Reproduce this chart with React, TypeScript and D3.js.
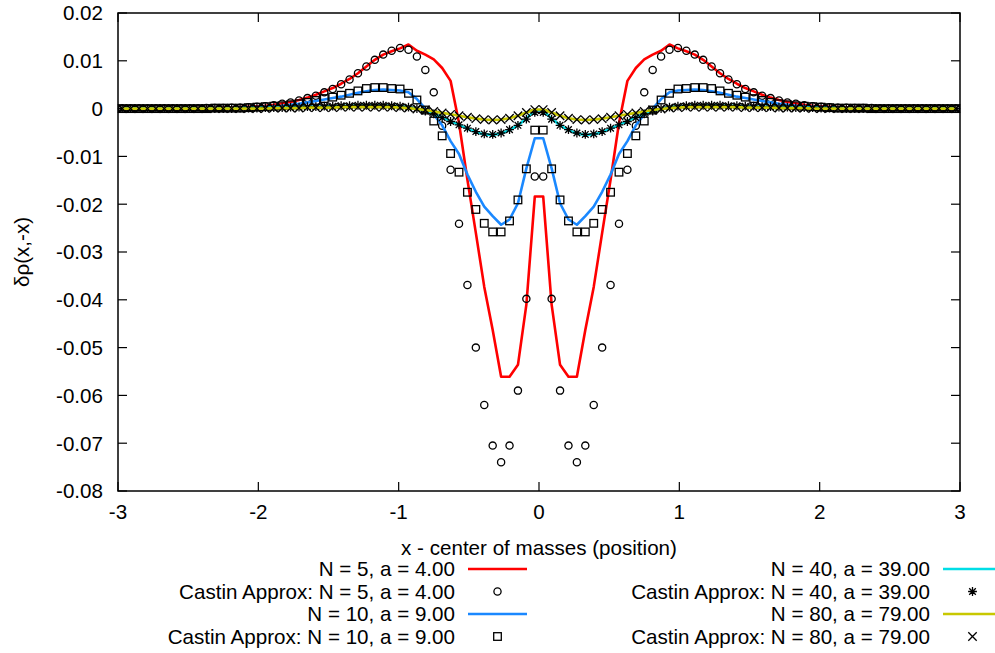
import React from "react";
import * as d3 from "d3";

// x positions (center of masses)
const xValues = [
  -2.97, -2.91, -2.85, -2.79, -2.73, -2.67, -2.61, -2.55, -2.49, -2.43,
  -2.37, -2.31, -2.25, -2.19, -2.13, -2.07, -2.01, -1.95, -1.89, -1.83,
  -1.77, -1.71, -1.65, -1.59, -1.53, -1.47, -1.41, -1.35, -1.29, -1.23,
  -1.17, -1.11, -1.05, -0.99, -0.93, -0.87, -0.81, -0.75, -0.69, -0.63,
  -0.57, -0.51, -0.45, -0.39, -0.33, -0.27, -0.21, -0.15, -0.09, -0.03,
  0.03, 0.09, 0.15, 0.21, 0.27, 0.33, 0.39, 0.45, 0.51, 0.57,
  0.63, 0.69, 0.75, 0.81, 0.87, 0.93, 0.99, 1.05, 1.11, 1.17,
  1.23, 1.29, 1.35, 1.41, 1.47, 1.53, 1.59, 1.65, 1.71, 1.77,
  1.83, 1.89, 1.95, 2.01, 2.07, 2.13, 2.19, 2.25, 2.31, 2.37,
  2.43, 2.49, 2.55, 2.61, 2.67, 2.73, 2.79, 2.85, 2.91, 2.97,
];

// N = 5, a = 4.00
const n5Line = [
  0, 0, 0, 0, 0, 0, 0, 0, 0, 0.0001,
  0.0001, 0.0001, 0.0002, 0.0002, 0.0003, 0.0004, 0.0005, 0.0006, 0.0008, 0.0011,
  0.0014, 0.0018, 0.0023, 0.0029, 0.0036, 0.0043, 0.0052, 0.0062, 0.0074, 0.0088,
  0.0102, 0.0113, 0.012, 0.0126, 0.0134, 0.0121, 0.0113, 0.0103, 0.0085, 0.0058,
  -0.003, -0.0149, -0.026, -0.0373, -0.0463, -0.0561, -0.0561, -0.0536, -0.041, -0.0184,
  -0.0184, -0.041, -0.0536, -0.0561, -0.0561, -0.0463, -0.0373, -0.026, -0.0149, -0.003,
  0.0058, 0.0085, 0.0103, 0.0113, 0.0121, 0.0134, 0.0126, 0.012, 0.0113, 0.0102,
  0.0088, 0.0074, 0.0062, 0.0052, 0.0043, 0.0036, 0.0029, 0.0023, 0.0018, 0.0014,
  0.0011, 0.0008, 0.0006, 0.0005, 0.0004, 0.0003, 0.0002, 0.0002, 0.0001, 0.0001,
  0.0001, 0, 0, 0, 0, 0, 0, 0, 0, 0,
];
// Castin Approx: N = 5, a = 4.00
const n5Castin = [
  0, 0, 0, 0, 0, 0, 0, 0, 0, 0,
  0.0001, 0.0001, 0.0001, 0.0002, 0.0002, 0.0003, 0.0004, 0.0005, 0.0007, 0.001,
  0.0013, 0.0017, 0.0022, 0.0027, 0.0034, 0.0041, 0.0051, 0.0061, 0.0074, 0.0088,
  0.0102, 0.0113, 0.0121, 0.0127, 0.0123, 0.0109, 0.0081, 0.0034, -0.0036, -0.0128,
  -0.0241, -0.0369, -0.05, -0.062, -0.0705, -0.074, -0.0705, -0.059, -0.0398, -0.0142,
  -0.0142, -0.0398, -0.059, -0.0705, -0.074, -0.0705, -0.062, -0.05, -0.0369, -0.0241,
  -0.0128, -0.0036, 0.0034, 0.0081, 0.0109, 0.0123, 0.0127, 0.0121, 0.0113, 0.0102,
  0.0088, 0.0074, 0.0061, 0.0051, 0.0041, 0.0034, 0.0027, 0.0022, 0.0017, 0.0013,
  0.001, 0.0007, 0.0005, 0.0004, 0.0003, 0.0002, 0.0002, 0.0001, 0.0001, 0.0001,
  0, 0, 0, 0, 0, 0, 0, 0, 0, 0,
];
// N = 10, a = 9.00
const n10Line = [
  0, 0, 0, 0, 0, 0, 0, 0, 0, 0,
  0, 0.0001, 0.0001, 0.0001, 0.0002, 0.0002, 0.0003, 0.0004, 0.0005, 0.0006,
  0.0008, 0.001, 0.0013, 0.0016, 0.0019, 0.0022, 0.0025, 0.0029, 0.0033, 0.0036,
  0.0039, 0.004, 0.0039, 0.0038, 0.0034, 0.002, 0, -0.0012, -0.0035, -0.0068,
  -0.0095, -0.0138, -0.0174, -0.0205, -0.0225, -0.0243, -0.0232, -0.0198, -0.0125, -0.0062,
  -0.0062, -0.0125, -0.0198, -0.0232, -0.0243, -0.0225, -0.0205, -0.0174, -0.0138, -0.0095,
  -0.0068, -0.0035, -0.0012, 0, 0.002, 0.0034, 0.0038, 0.0039, 0.004, 0.0039,
  0.0036, 0.0033, 0.0029, 0.0025, 0.0022, 0.0019, 0.0016, 0.0013, 0.001, 0.0008,
  0.0006, 0.0005, 0.0004, 0.0003, 0.0002, 0.0002, 0.0001, 0.0001, 0.0001, 0,
  0, 0, 0, 0, 0, 0, 0, 0, 0, 0,
];
// Castin Approx: N = 10, a = 9.00
const n10Castin = [
  0, 0, 0, 0, 0, 0, 0, 0, 0, 0,
  0, 0.0001, 0.0001, 0.0001, 0.0001, 0.0002, 0.0003, 0.0004, 0.0005, 0.0006,
  0.0008, 0.001, 0.0013, 0.0017, 0.0021, 0.0024, 0.0028, 0.0032, 0.0037, 0.0042,
  0.0044, 0.0044, 0.0042, 0.0041, 0.0032, 0.0018, -0.0003, -0.0026, -0.0057, -0.0094,
  -0.0133, -0.0175, -0.0211, -0.024, -0.0258, -0.0258, -0.0235, -0.0191, -0.0126, -0.0045,
  -0.0045, -0.0126, -0.0191, -0.0235, -0.0258, -0.0258, -0.024, -0.0211, -0.0175, -0.0133,
  -0.0094, -0.0057, -0.0026, -0.0003, 0.0018, 0.0032, 0.0041, 0.0042, 0.0044, 0.0044,
  0.0042, 0.0037, 0.0032, 0.0028, 0.0024, 0.0021, 0.0017, 0.0013, 0.001, 0.0008,
  0.0006, 0.0005, 0.0004, 0.0003, 0.0002, 0.0001, 0.0001, 0.0001, 0.0001, 0,
  0, 0, 0, 0, 0, 0, 0, 0, 0, 0,
];
// N = 40, a = 39.00
const n40Line = [
  0, 0, 0, 0, 0, 0, 0, 0, 0, 0,
  0, 0, 0, 0, 0.0001, 0.0001, 0.0001, 0.0002, 0.0002, 0.0002,
  0.0003, 0.0003, 0.0004, 0.0004, 0.0005, 0.0005, 0.0006, 0.0006, 0.0007, 0.0007,
  0.0007, 0.0007, 0.0006, 0.0005, 0.0003, 0, -0.0005, -0.0011, -0.0018, -0.0026,
  -0.0034, -0.0042, -0.0049, -0.0054, -0.0055, -0.0052, -0.0045, -0.0035, -0.0021, -0.0004,
  -0.0004, -0.0021, -0.0035, -0.0045, -0.0052, -0.0055, -0.0054, -0.0049, -0.0042, -0.0034,
  -0.0026, -0.0018, -0.0011, -0.0005, 0, 0.0003, 0.0005, 0.0006, 0.0007, 0.0007,
  0.0007, 0.0007, 0.0006, 0.0006, 0.0005, 0.0005, 0.0004, 0.0004, 0.0003, 0.0003,
  0.0002, 0.0002, 0.0002, 0.0001, 0.0001, 0.0001, 0, 0, 0, 0,
  0, 0, 0, 0, 0, 0, 0, 0, 0, 0,
];
// Castin Approx: N = 40, a = 39.00
const n40Castin = [
  0, 0, 0, 0, 0, 0, 0, 0, 0, 0,
  0, 0, 0, 0, 0.0001, 0.0001, 0.0001, 0.0002, 0.0002, 0.0002,
  0.0003, 0.0003, 0.0004, 0.0004, 0.0005, 0.0005, 0.0006, 0.0006, 0.0007, 0.0007,
  0.0007, 0.0007, 0.0006, 0.0005, 0.0003, 0, -0.0005, -0.0011, -0.0019, -0.0027,
  -0.0034, -0.0041, -0.0048, -0.0053, -0.0054, -0.0051, -0.0044, -0.0035, -0.0022, -0.0008,
  -0.0008, -0.0022, -0.0035, -0.0044, -0.0051, -0.0054, -0.0053, -0.0048, -0.0041, -0.0034,
  -0.0027, -0.0019, -0.0011, -0.0005, 0, 0.0003, 0.0005, 0.0006, 0.0007, 0.0007,
  0.0007, 0.0007, 0.0006, 0.0006, 0.0005, 0.0005, 0.0004, 0.0004, 0.0003, 0.0003,
  0.0002, 0.0002, 0.0002, 0.0001, 0.0001, 0.0001, 0, 0, 0, 0,
  0, 0, 0, 0, 0, 0, 0, 0, 0, 0,
];
// N = 80, a = 79.00
const n80Line = [
  0, 0, 0, 0, 0, 0, 0, 0, 0, 0,
  0, 0, 0, 0, 0, 0, 0, 0, 0.0001, 0.0001,
  0.0001, 0.0001, 0.0002, 0.0002, 0.0002, 0.0002, 0.0003, 0.0003, 0.0003, 0.0003,
  0.0003, 0.0003, 0.0003, 0.0002, 0.0001, -0.0001, -0.0003, -0.0006, -0.0009, -0.0012,
  -0.0015, -0.0018, -0.0021, -0.0023, -0.0024, -0.0023, -0.002, -0.0015, -0.0008, -0.0002,
  -0.0002, -0.0008, -0.0015, -0.002, -0.0023, -0.0024, -0.0023, -0.0021, -0.0018, -0.0015,
  -0.0012, -0.0009, -0.0006, -0.0003, -0.0001, 0.0001, 0.0002, 0.0003, 0.0003, 0.0003,
  0.0003, 0.0003, 0.0003, 0.0003, 0.0002, 0.0002, 0.0002, 0.0002, 0.0001, 0.0001,
  0.0001, 0.0001, 0, 0, 0, 0, 0, 0, 0, 0,
  0, 0, 0, 0, 0, 0, 0, 0, 0, 0,
];
// Castin Approx: N = 80, a = 79.00
const n80Castin = [
  0, 0, 0, 0, 0, 0, 0, 0, 0, 0,
  0, 0, 0, 0, 0, 0, 0, 0, 0.0001, 0.0001,
  0.0001, 0.0001, 0.0002, 0.0002, 0.0002, 0.0002, 0.0003, 0.0003, 0.0003, 0.0003,
  0.0003, 0.0003, 0.0003, 0.0002, 0.0001, -0.0001, -0.0003, -0.0006, -0.0009, -0.0012,
  -0.0015, -0.0018, -0.0021, -0.0023, -0.0024, -0.0023, -0.002, -0.0015, -0.0008, -0.0002,
  -0.0002, -0.0008, -0.0015, -0.002, -0.0023, -0.0024, -0.0023, -0.0021, -0.0018, -0.0015,
  -0.0012, -0.0009, -0.0006, -0.0003, -0.0001, 0.0001, 0.0002, 0.0003, 0.0003, 0.0003,
  0.0003, 0.0003, 0.0003, 0.0003, 0.0002, 0.0002, 0.0002, 0.0002, 0.0001, 0.0001,
  0.0001, 0.0001, 0, 0, 0, 0, 0, 0, 0, 0,
  0, 0, 0, 0, 0, 0, 0, 0, 0, 0,
];

const xTicks = [-3, -2, -1, 0, 1, 2, 3];
const xTickLabels = ["-3", "-2", "-1", "0", "1", "2", "3"];
const yTicks = [0.02, 0.01, 0, -0.01, -0.02, -0.03, -0.04, -0.05, -0.06, -0.07, -0.08];
const yTickLabels = ["0.02", "0.01", "0", "-0.01", "-0.02", "-0.03", "-0.04", "-0.05", "-0.06", "-0.07", "-0.08"];

const legendLeft = [
  "N = 5, a = 4.00",
  "Castin Approx: N = 5, a = 4.00",
  "N = 10, a = 9.00",
  "Castin Approx: N = 10, a = 9.00",
];
const legendRight = [
  "N = 40, a = 39.00",
  "Castin Approx: N = 40, a = 39.00",
  "N = 80, a = 79.00",
  "Castin Approx: N = 80, a = 79.00",
];

const RED = "#ff0000";
const BLUE = "#1a88ff";
const CYAN = "#00dde6";
const YELLOW = "#c8c800";
const FONT = "'Liberation Sans', Arial, sans-serif";
const FS = 20.6;

type MarkerKind = "circle" | "square" | "star" | "cross";

function Marker({ kind, cx, cy }: { kind: MarkerKind; cx: number; cy: number }) {
  const s = { stroke: "#000", strokeWidth: 1.3, fill: "none" } as const;
  if (kind === "circle") return <circle cx={cx} cy={cy} r={3.6} {...s} />;
  if (kind === "square") return <rect x={cx - 3.8} y={cy - 3.8} width={7.6} height={7.6} {...s} />;
  if (kind === "cross") {
    const h = 4.2;
    return <path d={`M${cx - h},${cy - h}L${cx + h},${cy + h}M${cx - h},${cy + h}L${cx + h},${cy - h}`} {...s} />;
  }
  const h = 4.4;
  const d = 3.3;
  return (
    <path
      d={`M${cx},${cy - h}L${cx},${cy + h}M${cx - h},${cy}L${cx + h},${cy}M${cx - d},${cy - d}L${cx + d},${cy + d}M${cx - d},${cy + d}L${cx + d},${cy - d}`}
      {...s}
    />
  );
}

export default function App() {
  const W = 995;
  const H = 653;
  const left = 118, right = 960, top = 13, bottom = 491;
  const x = d3.scaleLinear().domain([-3, 3]).range([left, right]);
  const y = d3.scaleLinear().domain([-0.08, 0.02]).range([bottom, top]);
  const lineGen = d3
    .line<number>()
    .x((_, i) => x(xValues[i]))
    .y((d) => y(d));

  const lineSeries = (vals: number[], color: string) => (
    <path d={lineGen(vals) || ""} fill="none" stroke={color} strokeWidth={2.6} strokeLinejoin="round" />
  );
  const markerSeries = (vals: number[], kind: MarkerKind) => (
    <g>
      {vals.map((v, i) => (
        <Marker key={i} kind={kind} cx={x(xValues[i])} cy={y(v)} />
      ))}
    </g>
  );

  const tickLen = 9;
  const legendY0 = 569;
  const legendDy = 22.5;

  const leftKinds: ({ line: string } | { marker: MarkerKind })[] = [
    { line: RED },
    { marker: "circle" },
    { line: BLUE },
    { marker: "square" },
  ];
  const rightKinds: ({ line: string } | { marker: MarkerKind })[] = [
    { line: CYAN },
    { marker: "star" },
    { line: YELLOW },
    { marker: "cross" },
  ];

  const legendColumn = (
    labels: string[],
    kinds: ({ line: string } | { marker: MarkerKind })[],
    textRight: number,
    sampleX0: number,
    sampleX1: number
  ) =>
    labels.map((lab, i) => {
      const yy = legendY0 + i * legendDy;
      const k = kinds[i];
      return (
        <g key={lab}>
          <text x={textRight} y={yy} dy="0.36em" textAnchor="end" fontSize={FS} fontFamily={FONT} fill="#000">
            {lab}
          </text>
          {"line" in k ? (
            <line x1={sampleX0} x2={sampleX1} y1={yy} y2={yy} stroke={k.line} strokeWidth={2.6} />
          ) : (
            <Marker kind={k.marker} cx={(sampleX0 + sampleX1) / 2} cy={yy} />
          )}
        </g>
      );
    });

  return (
    <svg
      width={W}
      height={H}
      viewBox={`0 0 ${W} ${H}`}
      style={{ position: "absolute", left: 0, top: 0, background: "#fff" }}
    >
      <rect x={0} y={0} width={W} height={H} fill="#fff" />

      {/* ticks */}
      {xTicks.map((t, i) => (
        <g key={"xt" + i}>
          <line x1={x(t)} x2={x(t)} y1={bottom} y2={bottom - tickLen} stroke="#000" strokeWidth={1.2} />
          <line x1={x(t)} x2={x(t)} y1={top} y2={top + tickLen} stroke="#000" strokeWidth={1.2} />
          <text x={x(t)} y={512} dy="0.36em" textAnchor="middle" fontSize={FS} fontFamily={FONT} fill="#000">
            {xTickLabels[i]}
          </text>
        </g>
      ))}
      {yTicks.map((t, i) => (
        <g key={"yt" + i}>
          <line x1={left} x2={left + tickLen} y1={y(t)} y2={y(t)} stroke="#000" strokeWidth={1.2} />
          <line x1={right} x2={right - tickLen} y1={y(t)} y2={y(t)} stroke="#000" strokeWidth={1.2} />
          <text x={103} y={y(t)} dy="0.36em" textAnchor="end" fontSize={FS} fontFamily={FONT} fill="#000">
            {yTickLabels[i]}
          </text>
        </g>
      ))}

      {/* data */}
      {lineSeries(n5Line, RED)}
      {markerSeries(n5Castin, "circle")}
      {lineSeries(n10Line, BLUE)}
      {markerSeries(n10Castin, "square")}
      {lineSeries(n40Line, CYAN)}
      {markerSeries(n40Castin, "star")}
      {lineSeries(n80Line, YELLOW)}
      {markerSeries(n80Castin, "cross")}

      {/* frame */}
      <rect x={left} y={top} width={right - left} height={bottom - top} fill="none" stroke="#000" strokeWidth={1.5} />

      {/* axis labels */}
      <text x={(left + right) / 2} y={548} dy="0.36em" textAnchor="middle" fontSize={FS} fontFamily={FONT} fill="#000">
        x - center of masses (position)
      </text>
      <text
        transform={`translate(22, ${(top + bottom) / 2}) rotate(-90)`}
        dy="0.36em"
        textAnchor="middle"
        fontSize={FS}
        fontFamily={FONT}
        fill="#000"
      >
        δρ(x,-x)
      </text>

      {/* legend */}
      {legendColumn(legendLeft, leftKinds, 455, 468, 527)}
      {legendColumn(legendRight, rightKinds, 930, 943, 1002)}
    </svg>
  );
}
